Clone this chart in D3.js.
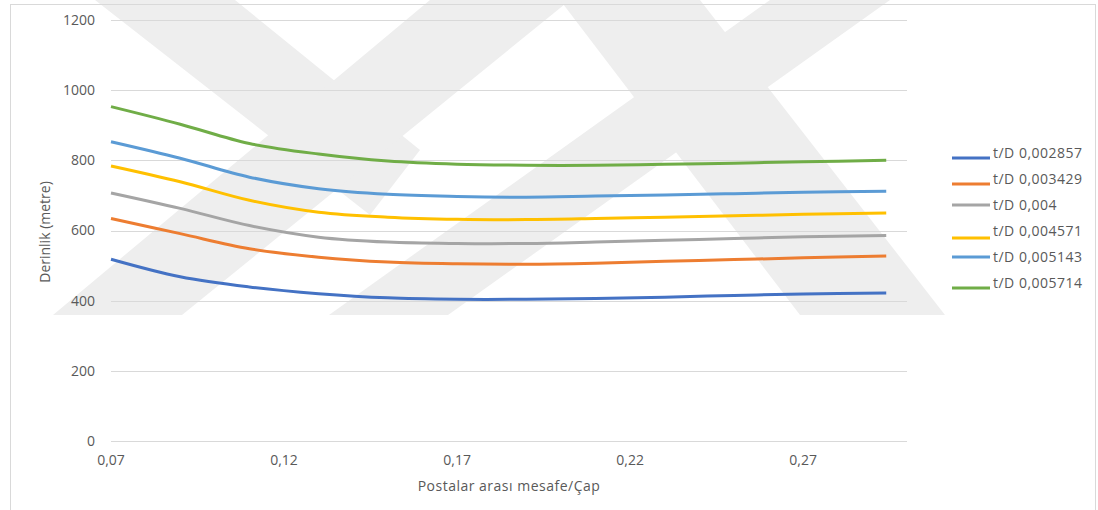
<!DOCTYPE html>
<html>
<head>
<meta charset="utf-8">
<script src="https://cdn.jsdelivr.net/npm/d3@7"></script>
<style>
  body { margin: 0; background: #fff; }
  svg { display: block; font-family: "Open Sans", sans-serif; }
</style>
</head>
<body>
<div id="chart"></div>
<script>
// veri: yatay eksen (postalar arası mesafe / çap)
const xValues = [0.07, 0.09, 0.11, 0.13, 0.15, 0.17, 0.19, 0.21, 0.23, 0.25, 0.27, 0.294];

// seri adları
const seriesNames = ["t/D 0,002857", "t/D 0,003429", "t/D 0,004", "t/D 0,004571", "t/D 0,005143", "t/D 0,005714"];

// derinlik (metre)
const depth1 = [518, 468, 439, 420, 408, 404, 404, 406, 410, 415, 419, 422];
const depth2 = [634, 591, 548, 524, 510, 505, 504, 507, 512, 517, 522, 527];
const depth3 = [707, 663, 614, 581, 567, 563, 563, 567, 572, 577, 582, 586];
const depth4 = [784, 739, 686, 652, 638, 632, 631, 634, 638, 642, 646, 650];
const depth5 = [853, 806, 752, 719, 703, 697, 695, 698, 701, 705, 709, 712];
const depth6 = [953, 903, 848, 818, 798, 789, 786, 786, 789, 792, 796, 800];

const xTicks = [0.07, 0.12, 0.17, 0.22, 0.27];
const yTicks = [0, 200, 400, 600, 800, 1000, 1200];

const colors = ["#4472C4", "#ED7D31", "#A5A5A5", "#FFC000", "#5B9BD5", "#70AD47"];

const width = 1098, height = 510;
const margin = { left: 111, right: 191, top: 20, bottom: 69 };

const svg = d3.select("#chart").append("svg")
  .attr("width", width).attr("height", height);

// arka plandaki filigran (gri çapraz bantlar)
function drawWatermark() {
  const shapes = [
    [[95, 0], [235, 0], [420, 150], [370, 215]],
    [[430, 0], [570, 0], [182, 315], [53, 315]],
    [[560, 0], [700, 0], [945, 315], [800, 315]],
    [[770, 0], [890, 0], [448, 315], [329, 315]]
  ];
  svg.append("g").selectAll("path")
    .data(shapes)
    .join("path")
    .attr("d", d => d3.line()(d) + "Z")
    .attr("fill", "#eeeeee");
}

function drawChart() {
  const x = d3.scaleLinear().domain([0.07, 0.30]).range([margin.left, width - margin.right]);
  const y = d3.scaleLinear().domain([0, 1200]).range([height - margin.bottom, margin.top]);

  // çerçeve
  svg.append("rect")
    .attr("x", 10.5).attr("y", 4.5).attr("width", 1085).attr("height", 520)
    .attr("fill", "none").attr("stroke", "#d9d9d9");

  // yatay ızgara
  svg.append("g").selectAll("line")
    .data(yTicks)
    .join("line")
    .attr("x1", x.range()[0]).attr("x2", x.range()[1])
    .attr("y1", d => Math.round(y(d)) + 0.5).attr("y2", d => Math.round(y(d)) + 0.5)
    .attr("stroke", "#d9d9d9").attr("stroke-width", 1.2);

  // y etiketleri
  svg.append("g").selectAll("text")
    .data(yTicks)
    .join("text")
    .attr("x", 95).attr("y", d => y(d))
    .attr("dy", "0.35em").attr("text-anchor", "end")
    .attr("font-size", 14).attr("fill", "#595959")
    .text(d => d);

  // x etiketleri
  svg.append("g").selectAll("text")
    .data(xTicks)
    .join("text")
    .attr("x", d => x(d)).attr("y", 460)
    .attr("dy", "0.35em").attr("text-anchor", "middle")
    .attr("font-size", 14).attr("fill", "#595959")
    .text(d => d3.format(".2f")(d).replace(".", ","));

  // eksen başlıkları
  svg.append("text")
    .attr("x", 509).attr("y", 486).attr("dy", "0.35em")
    .attr("text-anchor", "middle").attr("font-size", 14).attr("fill", "#595959")
    .attr("letter-spacing", 0.5)
    .text("Postalar  arası mesafe/Çap");

  svg.append("text")
    .attr("transform", "translate(45,232) rotate(-90)")
    .attr("dy", "0.35em").attr("text-anchor", "middle")
    .attr("font-size", 14).attr("fill", "#595959")
    .text("Derinlik (metre)");

  // çizgiler
  const series = [depth1, depth2, depth3, depth4, depth5, depth6];
  const line = d3.line()
    .x((d, i) => x(xValues[i]))
    .y(d => y(d))
    .curve(d3.curveCatmullRom.alpha(0.5));

  svg.append("g").selectAll("path")
    .data(series)
    .join("path")
    .attr("d", line)
    .attr("fill", "none")
    .attr("stroke", (d, i) => colors[i])
    .attr("stroke-width", 3);

  // lejant
  const swatchDy = [5, 5, 0, 7, 0, 5];
  const legend = svg.append("g").selectAll("g")
    .data(seriesNames)
    .join("g")
    .attr("transform", (d, i) => `translate(952,${153 + i * 26})`);

  legend.append("line")
    .attr("x1", 0).attr("x2", 38)
    .attr("y1", (d, i) => swatchDy[i]).attr("y2", (d, i) => swatchDy[i])
    .attr("stroke", (d, i) => colors[i]).attr("stroke-width", 3);

  legend.append("text")
    .attr("x", 41).attr("dy", "0.35em")
    .attr("font-size", 14).attr("fill", "#595959")
    .attr("letter-spacing", 0.5)
    .text(d => d);
}

drawWatermark();
drawChart();
</script>
</body>
</html>
